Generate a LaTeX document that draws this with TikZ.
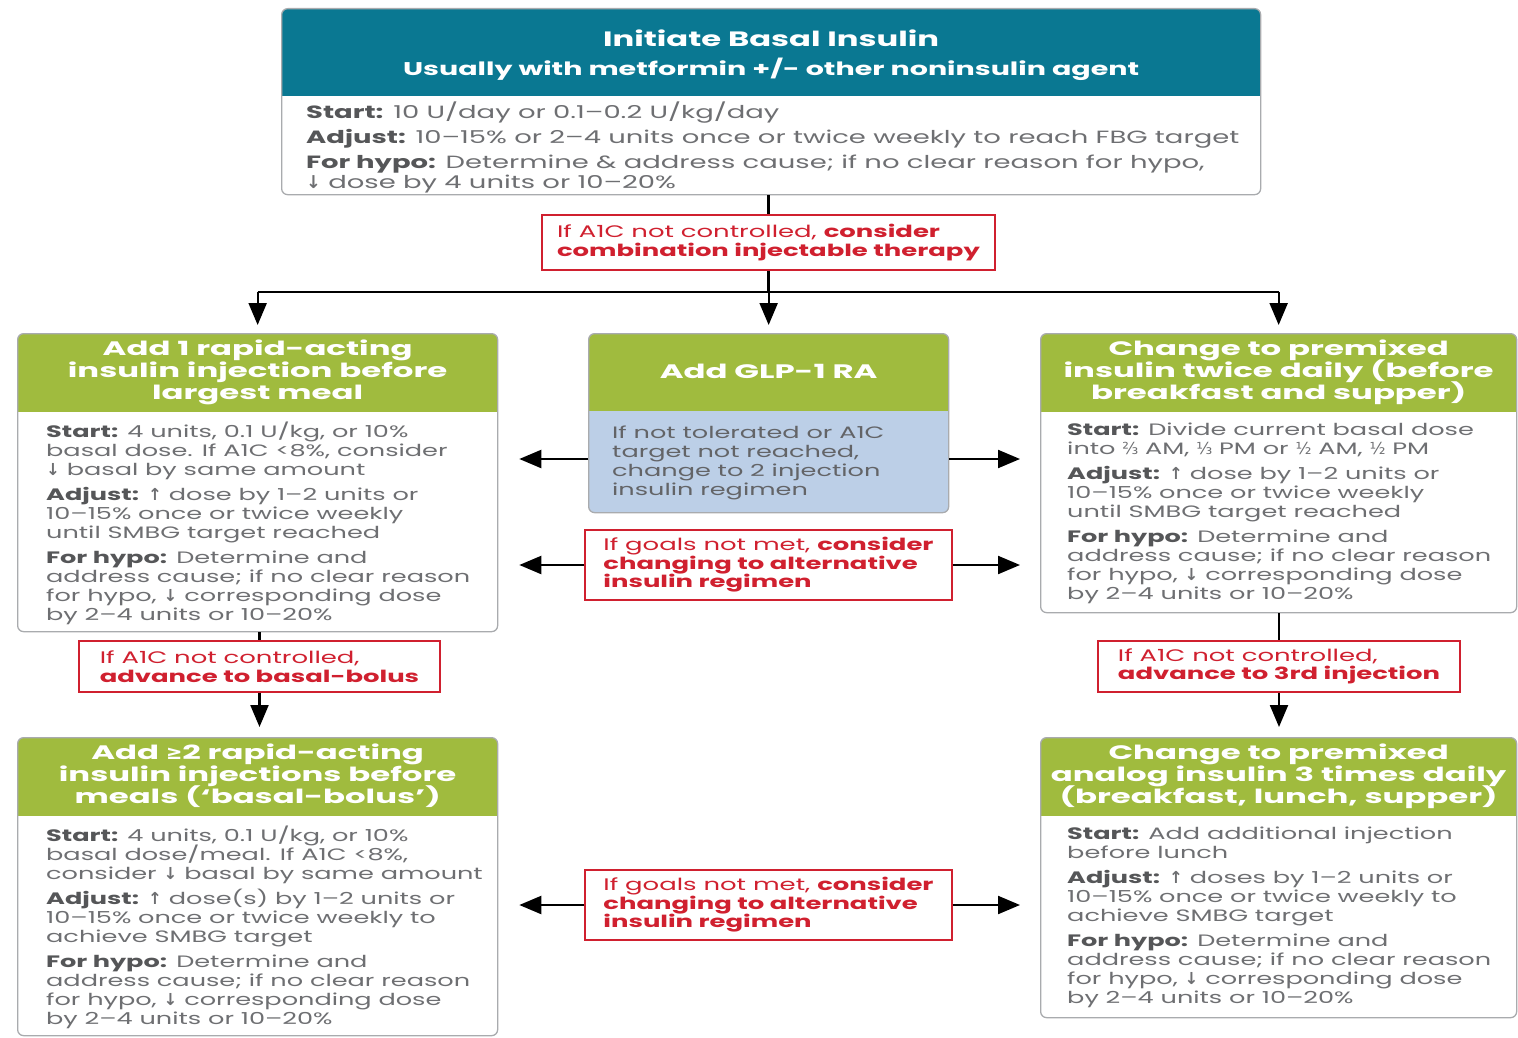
\documentclass[tikz,border=0pt]{standalone}
\usepackage{fontspec}
\setmainfont{Poppins}[FakeStretch=1.55]
\newfontfamily\hdrfont{Poppins}[FakeStretch=1.66]
\newfontfamily\symfont{DejaVu Sans}
\usetikzlibrary{arrows.meta,positioning,calc}

\definecolor{hdrteal}{HTML}{0A7892}
\definecolor{hdrgreen}{HTML}{A0BB3E}
\definecolor{glpblue}{HTML}{BCCFE7}
\definecolor{warnred}{HTML}{D0202F}
\definecolor{txtgray}{HTML}{6E6F72}
\definecolor{lblgray}{HTML}{555658}
\definecolor{framegray}{HTML}{A9ABAE}

\newcommand{\keyw}[1]{{\bfseries\color{lblgray}#1}}
\newcommand{\arrdn}{{\symfont\bfseries ↓}}
\newcommand{\arrup}{{\symfont\bfseries ↑}}
\newcommand{\frc}[1]{{\symfont #1}}
\newcommand{\tight}{\lineskiplimit=-30pt\lineskip=0pt}

\tikzset{
  boxframe/.style n args={4}{draw=framegray, line width=1.3pt, fill=white,
    rounded corners=6pt, anchor=north west, inner sep=0pt,
    minimum width=#1, minimum height=#2,
    path picture={\fill[#4, sharp corners] (path picture bounding box.north west)
      rectangle ([yshift=-#3]path picture bounding box.north east);}},
  hdrtxt/.style={text=white, align=center, inner sep=0pt,
    font=\hdrfont\bfseries\fontsize{19.5}{22}\selectfont\tight},
  bodytxt/.style={anchor=north west, inner sep=0pt, align=left, text=txtgray,
    font=\fontsize{16.5}{19}\selectfont\tight},
  condbox/.style={draw=warnred, line width=1.2pt, fill=white, text=warnred,
    align=left, inner sep=0pt, font=\fontsize{16.7}{18.5}\selectfont\tight},
  link/.style={line width=2.2pt},
  arr/.style={line width=2.2pt, -{Triangle[length=22pt,width=18pt]}},
}

\begin{document}
\begin{tikzpicture}[x=1pt, y=-1pt]
    \useasboundingbox (0,0) rectangle (1518,1038);

    % Initiate basal insulin
    \node[boxframe={979pt}{186pt}{87pt}{hdrteal}] (init) at (281,8) {};
    \node[hdrtxt, font=\bfseries\fontsize{18.4}{29}\selectfont\tight] (inith)
        at ($(init.north)+(0,47)$)
        {{\fontsize{20.8}{29}\selectfont Initiate Basal Insulin}\\ Usually with metformin +/- other noninsulin agent};
    \node[bodytxt, font=\fontsize{17.7}{20}\selectfont\tight] (initb) at ($(init.north west)+(25,94)$)
        {\keyw{Start:} 10 U/day or 0.1–0.2 U/kg/day\\[5pt]
         \keyw{Adjust:} 10–15\% or 2–4 units once or twice weekly to reach FBG target\\[5pt]
         \keyw{For hypo:} Determine \& address cause; if no clear reason for hypo,\\
         \arrdn{} dose by 4 units or 10–20\%};

    % First decision
    \node[condbox, minimum width=453pt, minimum height=55pt] (q1) at (768.5,242.5)
        {If A1C not controlled, \textbf{consider}\\ \textbf{combination injectable therapy}};

    % Add one rapid-acting injection
    \node[boxframe={480pt}{298pt}{78pt}{hdrgreen}] (add1) at (17,333) {};
    \node[hdrtxt] (add1h) at ($(add1.north)+(0,39)$)
        {Add 1 rapid-acting\\ insulin injection before\\ largest meal};
    \node[bodytxt] (add1b) at ($(add1.north west)+(29,89)$)
        {\keyw{Start:} 4 units, 0.1 U/kg, or 10\%\\
         basal dose. If A1C <8\%, consider\\
         \arrdn{} basal by same amount\\[6pt]
         \keyw{Adjust:} \arrup{} dose by 1–2 units or\\
         10–15\% once or twice weekly\\
         until SMBG target reached\\[6pt]
         \keyw{For hypo:} Determine and\\
         address cause; if no clear reason\\
         for hypo, \arrdn{} corresponding dose\\
         by 2–4 units or 10–20\%};

    % Add GLP-1 RA
    \node[boxframe={360pt}{179pt}{77pt}{hdrgreen}, fill=glpblue] (glp) at (588,333) {};
    \node[hdrtxt] (glph) at ($(glp.north)+(0,38)$) {Add GLP-1 RA};
    \node[bodytxt, anchor=west, text=txtgray!90!black] (glpb) at ($(glp.north west)+(24,130)$)
        {If not tolerated or A1C\\
         target not reached,\\
         change to 2 injection\\
         insulin regimen};
    \coordinate (glpmid) at ($(glpb.west)+(0,-4)$);

    % Premixed twice daily
    \node[boxframe={476pt}{279pt}{78pt}{hdrgreen}] (chg1) at (1040,333) {};
    \node[hdrtxt] (chg1h) at ($(chg1.north)+(0,39)$)
        {Change to premixed\\ insulin twice daily (before\\ breakfast and supper)};
    \node[bodytxt] (chg1b) at ($(chg1.north west)+(27,90)$)
        {\keyw{Start:} Divide current basal dose\\
         into \frc{⅔} AM, \frc{⅓} PM or \frc{½} AM, \frc{½} PM\\[6pt]
         \keyw{Adjust:} \arrup{} dose by 1–2 units or\\
         10–15\% once or twice weekly\\
         until SMBG target reached\\[6pt]
         \keyw{For hypo:} Determine and\\
         address cause; if no clear reason\\
         for hypo, \arrdn{} corresponding dose\\
         by 2–4 units or 10–20\%};

    % Alternative regimen (upper)
    \node[condbox, minimum width=367pt, minimum height=70pt] (q2) at (768.5,565)
        {If goals not met, \textbf{consider}\\ \textbf{changing to alternative}\\ \textbf{insulin regimen}};

    % Advance questions
    \node[condbox, minimum width=361pt, minimum height=51pt] (ql) at (259.5,666.5)
        {If A1C not controlled,\\ \textbf{advance to basal-bolus}};
    \node[condbox, minimum width=362pt, minimum height=51pt] (qr) at (1279,666.5)
        {If A1C not controlled,\\ \textbf{advance to 3rd injection}};

    % Basal-bolus
    \node[boxframe={480pt}{298pt}{78pt}{hdrgreen}] (add2) at (17,737) {};
    \node[hdrtxt] (add2h) at ($(add2.north)+(0,39)$)
        {Add {\symfont\bfseries ≥}2 rapid-acting\\ insulin injections before\\ meals (‘basal-bolus’)};
    \node[bodytxt] (add2b) at ($(add2.north west)+(29,89)$)
        {\keyw{Start:} 4 units, 0.1 U/kg, or 10\%\\
         basal dose/meal. If A1C <8\%,\\
         consider \arrdn{} basal by same amount\\[6pt]
         \keyw{Adjust:} \arrup{} dose(s) by 1–2 units or\\
         10–15\% once or twice weekly to\\
         achieve SMBG target\\[6pt]
         \keyw{For hypo:} Determine and\\
         address cause; if no clear reason\\
         for hypo, \arrdn{} corresponding dose\\
         by 2–4 units or 10–20\%};

    % Premixed three times daily
    \node[boxframe={476pt}{280pt}{78pt}{hdrgreen}] (chg2) at (1040,737) {};
    \node[hdrtxt] (chg2h) at ($(chg2.north)+(0,39)$)
        {Change to premixed\\ analog insulin 3 times daily\\ (breakfast, lunch, supper)};
    \node[bodytxt] (chg2b) at ($(chg2.north west)+(27,90)$)
        {\keyw{Start:} Add additional injection\\
         before lunch\\[6pt]
         \keyw{Adjust:} \arrup{} doses by 1–2 units or\\
         10–15\% once or twice weekly to\\
         achieve SMBG target\\[6pt]
         \keyw{For hypo:} Determine and\\
         address cause; if no clear reason\\
         for hypo, \arrdn{} corresponding dose\\
         by 2–4 units or 10–20\%};

    % Alternative regimen (lower)
    \node[condbox, minimum width=367pt, minimum height=70pt] (q3) at (768.5,905)
        {If goals not met, \textbf{consider}\\ \textbf{changing to alternative}\\ \textbf{insulin regimen}};

    % Connectors
    \draw[link] (q1.north |- init.south) -- (q1.north);
    \draw[link] (q1.south) -- ++(0,21) coordinate (bus);
    \draw[link] (bus -| add1.north) -- (bus -| chg1.north);
    \draw[arr, shorten >=8pt] (bus -| add1.north) -- (add1.north);
    \draw[arr, shorten >=8pt] (bus -| glp.north) -- (glp.north);
    \draw[arr, shorten >=8pt] (bus -| chg1.north) -- (chg1.north);

    \draw[arr, shorten >=21pt] (glpmid -| glp.west) -- (glpmid -| add1.east);
    \draw[arr, shorten >=20pt] (glpmid -| glp.east) -- (glpmid -| chg1.west);
    \draw[arr, shorten >=21pt] (q2.west) -- (q2.west -| add1.east);
    \draw[arr, shorten >=20pt] (q2.east) -- (q2.east -| chg1.west);
    \draw[arr, shorten >=21pt] (q3.west) -- (q3.west -| add2.east);
    \draw[arr, shorten >=20pt] (q3.east) -- (q3.east -| chg2.west);

    \draw[link] (ql.north |- add1.south) -- (ql.north);
    \draw[arr, shorten >=10pt] (ql.south) -- (ql.south |- add2.north);
    \draw[link] (qr.north |- chg1.south) -- (qr.north);
    \draw[arr, shorten >=10pt] (qr.south) -- (qr.south |- chg2.north);
\end{tikzpicture}
\end{document}
